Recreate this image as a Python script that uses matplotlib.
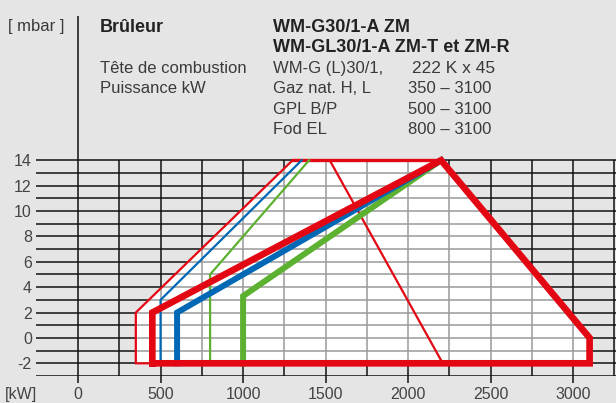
import numpy as np
import matplotlib.pyplot as plt
from matplotlib.patches import Polygon

plt.rcParams['font.family'] = ['Liberation Sans', 'DejaVu Sans']

W, H = 616, 403

# working field outlines (kW, mbar)
gaz_thin_x = [450, 350, 350, 1300, 2200]
gaz_thin_y = [-2, -2, 2, 14, 14]
gaz_thick_x = [450, 450, 2200, 3100, 3100, 450]
gaz_thick_y = [-2, 2, 14, 0, -2, -2]
cut_x = [1525, 2210]
cut_y = [14, -2]
gpl_thin_x = [500, 500, 1355]
gpl_thin_y = [-2, 3, 14]
gpl_thick_x = [600, 600, 2200]
gpl_thick_y = [-2, 2, 14]
fod_thin_x = [800, 800, 1400]
fod_thin_y = [-2, 5, 14]
fod_thick_x = [1000, 1000, 2200]
fod_thick_y = [-2, 3.3, 14]
env_x = [350, 350, 1300, 2200, 3100, 3100]
env_y = [-2, 2, 14, 14, 0, -2]

xticks = [0, 500, 1000, 1500, 2000, 2500, 3000]
yticks = [-2, 0, 2, 4, 6, 8, 10, 12, 14]

RED = '#e30613'
BLUE = '#0068b4'
GREEN = '#5cb130'
BG = '#e5e5e5'

fig = plt.figure(figsize=(W / 100, H / 100), dpi=100, facecolor=BG)
ax = fig.add_axes([36 / W, (H - 376) / H, 1 - 36 / W, (376 - 16) / H])
ax.set_facecolor(BG)
x0, x1 = -255, 3260
ax.set_xlim(x0, x1)
ax.set_ylim(-3, 25.37)
for s in ax.spines.values():
    s.set_visible(False)

# grid, black outside the field
ys = np.arange(-3, 15)
xs = np.arange(250, 3251, 250)
ax.hlines(ys, x0, x1, color='#111111', lw=1.1, zorder=1)
ax.vlines(xs, -3, 14, color='#111111', lw=1.1, zorder=1)
ax.vlines([0], -3, 25.37, color='#111111', lw=1.1, zorder=1)

# white field with grey grid inside
env = Polygon(list(zip(env_x, env_y)), closed=True, facecolor='white', edgecolor='none', zorder=2)
ax.add_patch(env)
h2 = ax.hlines(ys, x0, x1, color='#9a9a9a', lw=1.1, zorder=3)
v2 = ax.vlines(xs, -3, 14, color='#9a9a9a', lw=1.1, zorder=3)
h2.set_clip_path(env)
v2.set_clip_path(env)

ax.plot(gaz_thin_x, gaz_thin_y, color=RED, lw=1.6, zorder=4, solid_joinstyle='miter')
ax.plot([1300, 2200], [14, 14], color=RED, lw=2.4, zorder=4)
ax.plot(cut_x, cut_y, color=RED, lw=1.6, zorder=4)
ax.plot(gpl_thin_x, gpl_thin_y, color=BLUE, lw=1.6, zorder=4, solid_joinstyle='miter')
ax.plot(fod_thin_x, fod_thin_y, color=GREEN, lw=1.6, zorder=4, solid_joinstyle='miter')
ax.plot(fod_thick_x, fod_thick_y, color=GREEN, lw=4.3, zorder=5, solid_joinstyle='miter')
ax.plot(gpl_thick_x, gpl_thick_y, color=BLUE, lw=4.3, zorder=6, solid_joinstyle='miter')
ax.plot(gaz_thick_x, gaz_thick_y, color=RED, lw=4.8, zorder=7, solid_joinstyle='miter')

ax.set_xticks(xticks)
ax.set_xticklabels([str(v) for v in xticks])
ax.set_yticks(yticks)
ax.set_yticklabels([str(v) for v in yticks])
ax.tick_params(axis='x', length=5, width=1.1, color='#111111', pad=3,
               labelsize=11.5, labelcolor='#444444')
ax.tick_params(axis='y', length=0, pad=3, labelsize=11.5, labelcolor='#444444')

def ftext(x, y, s, **kw):
    fig.text(x / W, 1 - y / H, s, va='baseline', ha='left', **kw)

fig.text(5 / W, 1 - 395 / H, '[kW]', va='center', ha='left', fontsize=11.5, color='#444444')

col = '#3a3a3a'
base = 31.5
step = 20.6
ftext(8, base, '[ mbar ]', fontsize=12, color=col)
ftext(100, base, 'Brûleur', fontsize=13, fontweight='bold', color='#222222')
ftext(273, base, 'WM-G30/1-A ZM', fontsize=13, fontweight='bold', color='#222222')
ftext(273, base + step, 'WM-GL30/1-A ZM-T et ZM-R', fontsize=13, fontweight='bold', color='#222222')
ftext(100, base + 2 * step, 'Tête de combustion', fontsize=12, color=col)
ftext(100, base + 3 * step, 'Puissance kW', fontsize=12, color=col)
ftext(273, base + 2 * step, 'WM-G (L)30/1,', fontsize=12, color=col)
ftext(412, base + 2 * step, '222 K x 45', fontsize=12.5, color=col)
rows = ['Gaz nat. H, L', 'GPL B/P', 'Fod EL']
ranges = ['350 – 3100', '500 – 3100', '800 – 3100']
for i, (r, v) in enumerate(zip(rows, ranges)):
    ftext(273, base + (3 + i) * step, r, fontsize=12, color=col)
    ftext(408, base + (3 + i) * step, v, fontsize=12, color=col)

fig.savefig('out.png', dpi=100, facecolor=BG)
